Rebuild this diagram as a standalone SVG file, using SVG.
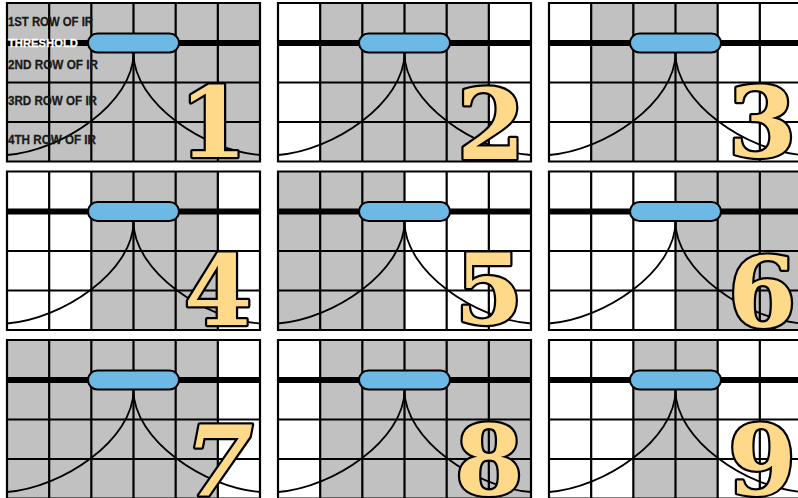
<svg xmlns="http://www.w3.org/2000/svg" width="798" height="498" viewBox="0 0 798 498">
<style>
.sh{fill:#c1c1c1}
.grid{stroke:#000;stroke-width:2.2;fill:none}
.thr{stroke:#000;stroke-width:6}
.pill{fill:#6db9e6;stroke:#000;stroke-width:2}
.curve{fill:none;stroke:#000;stroke-width:1.8}
.dig{font-family:"DejaVu Serif","Liberation Serif",serif;font-weight:bold;font-size:98px;fill:#fed98a;stroke:#000;stroke-width:4.5;paint-order:stroke;stroke-linejoin:round;text-anchor:middle}
.it{font-style:italic}
.lbl{font-family:"Liberation Sans",Arial,sans-serif;font-weight:bold;font-size:12.5px;fill:#1a1a1a;stroke:#1a1a1a;stroke-width:0.3}
.thl{fill:#fff;stroke:#fff;font-size:11.5px}
</style>
<defs>
<g id="grid">
<path class="grid" d="M0,0H253V158.5H0Z M42.17,0V158.5 M84.33,0V158.5 M126.5,0V158.5 M168.67,0V158.5 M210.83,0V158.5 M0,79.5H253 M0,119H253"/>
<line class="thr" x1="0" y1="40" x2="253" y2="40"/>
<path class="curve" d="M126.5,50 C126.5,100 55,148 0,152"/>
<path class="curve" d="M126.5,50 C126.5,100 198,148 253,152"/>
<rect class="pill" x="81" y="30.5" width="91" height="19" rx="9.5"/>
</g>
</defs>
<rect width="798" height="498" fill="#fff"/>
<g id="panel1" transform="translate(7,3)">
<rect class="sh" x="0" y="0" width="253" height="158.5"/>
<use href="#grid"/>
<text class="lbl" x="1" y="23" textLength="85" lengthAdjust="spacingAndGlyphs">1ST ROW OF IR</text>
<text class="lbl thl" x="1" y="44" textLength="70" lengthAdjust="spacingAndGlyphs">THRESHOLD</text>
<text class="lbl" x="1" y="66" textLength="90" lengthAdjust="spacingAndGlyphs">2ND ROW OF IR</text>
<text class="lbl" x="1" y="102" textLength="89" lengthAdjust="spacingAndGlyphs">3RD ROW OF IR</text>
<text class="lbl" x="1" y="141" textLength="88" lengthAdjust="spacingAndGlyphs">4TH ROW OF IR</text>
<text class="dig" x="206" y="154">1</text>
</g>
<g id="panel2" transform="translate(278,3)">
<rect class="sh" x="42.17" y="0" width="168.67" height="158.5"/>
<use href="#grid"/>
<text class="dig" x="213" y="156">2</text>
</g>
<g id="panel3" transform="translate(549,3)">
<rect class="sh" x="42.17" y="0" width="126.5" height="158.5"/>
<use href="#grid"/>
<text class="dig" x="213" y="154">3</text>
</g>
<g id="panel4" transform="translate(7,171.5)">
<rect class="sh" x="84.33" y="0" width="126.5" height="158.5"/>
<use href="#grid"/>
<text class="dig" x="211" y="153">4</text>
</g>
<g id="panel5" transform="translate(278,171.5)">
<rect class="sh" x="0" y="0" width="126.5" height="158.5"/>
<use href="#grid"/>
<text class="dig" x="211" y="152">5</text>
</g>
<g id="panel6" transform="translate(549,171.5)">
<rect class="sh" x="126.5" y="0" width="126.5" height="158.5"/>
<use href="#grid"/>
<text class="dig" x="213" y="155">6</text>
</g>
<g id="panel7" transform="translate(7,340)">
<rect class="sh" x="0" y="0" width="210.83" height="158.5"/>
<use href="#grid"/>
<text class="dig it" x="212" y="156">7</text>
</g>
<g id="panel8" transform="translate(278,340)">
<rect class="sh" x="42.17" y="0" width="210.83" height="158.5"/>
<use href="#grid"/>
<text class="dig" x="211" y="155">8</text>
</g>
<g id="panel9" transform="translate(549,340)">
<rect class="sh" x="84.33" y="0" width="84.33" height="158.5"/>
<use href="#grid"/>
<text class="dig" x="213" y="155">9</text>
</g>
</svg>
